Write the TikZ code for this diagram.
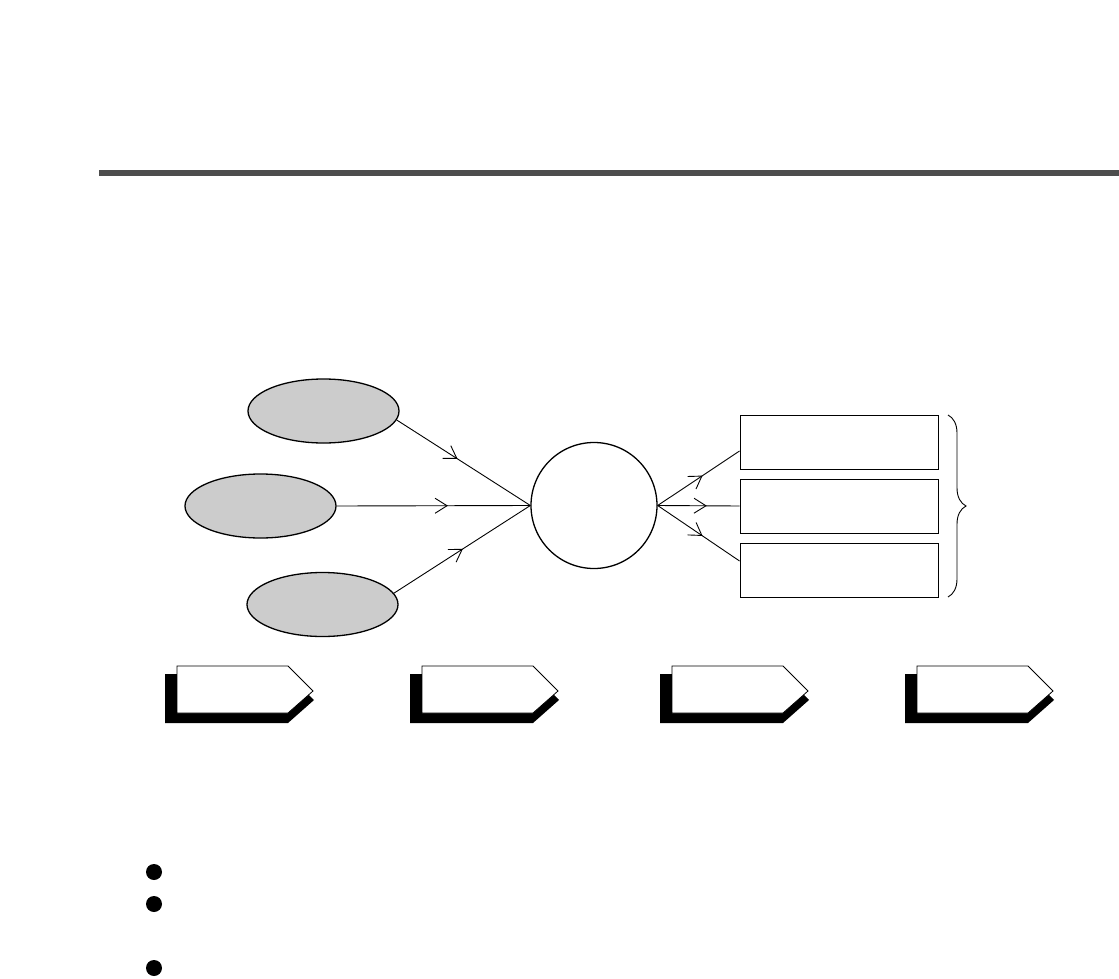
\documentclass[tikz,border=0pt]{standalone}
\usetikzlibrary{shapes.geometric,decorations.markings,decorations.pathreplacing}
\definecolor{barcol}{HTML}{4D4D4D}
\definecolor{ellfill}{HTML}{CCCCCC}
\tikzset{
  oval/.style={ellipse, draw=black, line width=1.3pt, fill=ellfill, minimum width=151pt, minimum height=64pt, inner sep=0pt},
  hub/.style={circle, draw=black, line width=1.3pt, minimum size=126pt, inner sep=0pt},
  outbox/.style={rectangle, draw=black, line width=0.9pt, minimum width=198pt, minimum height=54pt, inner sep=0pt},
  link/.style={draw=black, line width=0.9pt},
  midarrow/.style={postaction={decorate, decoration={markings, mark=at position #1 with {\draw[line width=0.9pt, line join=miter] (-12pt,-7.5pt) -- (0pt,0pt) -- (-12pt,7.5pt);}}}},
  tagshadow/.style={fill=black},
  tagfront/.style={fill=white, draw=black, line width=0.8pt},
  dot/.style={circle, fill=black, minimum size=16pt, inner sep=0pt},
}
\begin{document}
\begin{tikzpicture}[x=1pt,y=-1pt]
\useasboundingbox (0,0) rectangle (1119,979);
% top bar
\fill[barcol] (99,170) rectangle (1119,176);
% ellipses
\node[oval] (e1) at (323.5,411) {};
\node[oval] (e2) at (260.5,506) {};
\node[oval] (e3) at (322.5,604.5) {};
% hub
\node[hub] (c) at (594,505.5) {};
% boxes
\node[outbox] (r1) at (839,442) {};
\node[outbox] (r2) at (839,506) {};
\node[outbox] (r3) at (839,570) {};
% connectors
\draw[link, midarrow=0.45] (e1.-7) -- (c.west);
\draw[link, midarrow=0.57] (e2.east) -- (c.west);
\draw[link, midarrow=0.50] (e3.9) -- (c.west);
\coordinate (r1in) at ([yshift=-9pt]r1.west);
\coordinate (r3in) at ([yshift=9pt]r3.west);
\draw[link, midarrow=0.54] (c.east) -- (r1in);
\draw[link, midarrow=0.59] (c.east) -- (r2.west);
\draw[link, midarrow=0.54] (c.east) -- (r3in);
% brace
\coordinate (bt) at (948,415);
\coordinate (bb) at (948,597);
\draw[line width=0.9pt, decorate, decoration={brace, amplitude=18pt}] (bt) -- (bb);
% tags
\foreach \x/\n in {177/t1, 422/t2, 672/t3, 917/t4}{
  \fill[tagshadow] (\x-12,674) -- (\x+111,674) -- (\x+137,700) -- (\x+111,723) -- (\x-12,723) -- cycle;
  \draw[tagfront] (\x,666) -- (\x+111,666) -- (\x+136,691) -- (\x+111,713) -- (\x,713) -- cycle;
}
% bullets
\node[dot] (b1) at (154,872) {};
\node[dot] (b2) at (154,904) {};
\node[dot] (b3) at (154,968) {};
\end{tikzpicture}
\end{document}
